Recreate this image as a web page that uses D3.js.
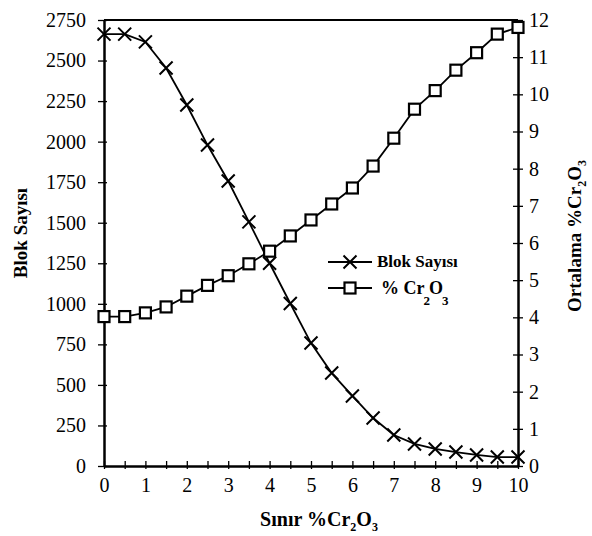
<!DOCTYPE html>
<html>
<head>
<meta charset="utf-8">
<title>Blok Sayısı - Ortalama %Cr2O3</title>
<script src="https://cdn.jsdelivr.net/npm/d3@7"></script>
<style>
    body { margin: 0; background: #fff; }
    svg { display: block; }
    .tick text { font-family: "Liberation Serif", "Times New Roman", serif; font-size: 20px; fill: #000; }
    .title { font-family: "Liberation Serif", "Times New Roman", serif; font-weight: bold; fill: #000; }
</style>
</head>
<body>
<div id="chart"></div>
<script>
    // data
    var sinir = [0, 0.5, 1, 1.5, 2, 2.5, 3, 3.5, 4, 4.5, 5, 5.5, 6, 6.5, 7, 7.5, 8, 8.5, 9, 9.5, 10];
    var blokSayisi = [2663, 2663, 2615, 2454, 2226, 1979, 1757, 1505, 1250, 1002, 758, 573, 432, 296, 191, 136, 105, 86, 68, 55, 55];
    var ortCr2O3 = [4.02, 4.02, 4.12, 4.28, 4.57, 4.86, 5.12, 5.44, 5.78, 6.19, 6.62, 7.05, 7.48, 8.07, 8.82, 9.6, 10.1, 10.65, 11.12, 11.62, 11.8];
    var leftTicks = [0, 250, 500, 750, 1000, 1250, 1500, 1750, 2000, 2250, 2500, 2750];
    var rightTicks = [0, 1, 2, 3, 4, 5, 6, 7, 8, 9, 10, 11, 12];
    var xMinorTicks = sinir;

    var width = 592, height = 536;
    var pLeft = 104, pRight = 518, pTop = 20, pBottom = 466;

    var svg = d3.select("#chart").append("svg")
        .attr("width", width)
        .attr("height", height);

    var x = d3.scaleLinear().domain([0, 10]).range([pLeft, pRight]);
    var yL = d3.scaleLinear().domain([0, 2750]).range([pBottom, pTop]);
    var yR = d3.scaleLinear().domain([0, 12]).range([pBottom, pTop]);

    // top border
    svg.append("line")
        .attr("x1", x(0)).attr("x2", x(10))
        .attr("y1", yL(2750)).attr("y2", yL(2750))
        .attr("stroke", "#000").attr("stroke-width", 2);

    function styleAxis(g) {
        g.select(".domain").attr("stroke", "#000").attr("stroke-width", 2.5);
        g.selectAll(".tick line").attr("stroke", "#000").attr("stroke-width", 1.3);
    }

    // left axis
    var gL = svg.append("g")
        .attr("transform", "translate(" + pLeft + ",0)")
        .call(d3.axisLeft(yL).tickValues(leftTicks).tickFormat(d3.format("d"))
            .tickSize(6).tickSizeOuter(0).tickPadding(12));
    styleAxis(gL);
    gL.selectAll(".tick line").attr("x1", 3);

    // right axis
    var gR = svg.append("g")
        .attr("transform", "translate(" + pRight + ",0)")
        .call(d3.axisRight(yR).tickValues(rightTicks).tickFormat(d3.format("d"))
            .tickSize(5).tickSizeOuter(0).tickPadding(6));
    styleAxis(gR);
    gR.selectAll(".tick line").attr("x1", -5);

    // bottom axis: minor ticks every 0.5, labels at integers
    var gB = svg.append("g")
        .attr("transform", "translate(0," + pBottom + ")")
        .call(d3.axisBottom(x).tickValues(xMinorTicks).tickSize(3).tickSizeOuter(0).tickPadding(9)
            .tickFormat(function(d){ return Number.isInteger(d) ? d : ""; }));
    styleAxis(gB);
    gB.selectAll(".tick line").attr("y1", -5);

    // lines
    var lineBlok = d3.line()
        .x(function(d, i){ return x(sinir[i]); })
        .y(function(d){ return yL(d); });
    var lineCr = d3.line()
        .x(function(d, i){ return x(sinir[i]); })
        .y(function(d){ return yR(d); });

    svg.append("path").datum(blokSayisi)
        .attr("d", lineBlok)
        .attr("fill", "none").attr("stroke", "#000").attr("stroke-width", 1.8);
    svg.append("path").datum(ortCr2O3)
        .attr("d", lineCr)
        .attr("fill", "none").attr("stroke", "#000").attr("stroke-width", 1.8);

    function drawCross(g, cx, cy) {
        var s = 6.5;
        g.append("path")
            .attr("d", "M" + (cx - s) + "," + (cy - s) + "L" + (cx + s) + "," + (cy + s) +
                       "M" + (cx - s) + "," + (cy + s) + "L" + (cx + s) + "," + (cy - s))
            .attr("stroke", "#000").attr("stroke-width", 2).attr("fill", "none");
    }
    function drawSquare(g, cx, cy) {
        var s = 5.5;
        g.append("rect")
            .attr("x", cx - s).attr("y", cy - s)
            .attr("width", 2 * s).attr("height", 2 * s)
            .attr("fill", "#fff").attr("stroke", "#000").attr("stroke-width", 2.2);
    }

    var gMarks = svg.append("g");
    blokSayisi.forEach(function(d, i){ drawCross(gMarks, x(sinir[i]), yL(d)); });
    ortCr2O3.forEach(function(d, i){ drawSquare(gMarks, x(sinir[i]), yR(d)); });

    // legend
    var leg = svg.append("g");
    leg.append("line").attr("x1", 328).attr("x2", 372).attr("y1", 262).attr("y2", 262)
        .attr("stroke", "#000").attr("stroke-width", 1.8);
    drawCross(leg, 350, 262);
    leg.append("text").attr("class", "title").attr("x", 377).attr("y", 267)
        .style("font-size", "17px").text("Blok Sayısı");

    leg.append("line").attr("x1", 328).attr("x2", 372).attr("y1", 288).attr("y2", 288)
        .attr("stroke", "#000").attr("stroke-width", 2.2);
    drawSquare(leg, 350, 288);
    var t2 = leg.append("text").attr("class", "title").attr("x", 381).attr("y", 294)
        .style("font-size", "18px");
    t2.append("tspan").text("% Cr");
    t2.append("tspan").attr("dy", 11).attr("dx", -1).style("font-size", "13px").text("2");
    t2.append("tspan").attr("dy", -11).attr("dx", -1).text("O");
    t2.append("tspan").attr("dy", 11).attr("dx", -1).style("font-size", "13px").text("3");

    // axis titles
    function subTitle(t, pre) {
        t.append("tspan").text(pre + "%Cr");
        t.append("tspan").attr("dy", 5).style("font-size", "12px").text("2");
        t.append("tspan").attr("dy", -5).text("O");
        t.append("tspan").attr("dy", 5).style("font-size", "12px").text("3");
    }

    var tx = svg.append("text").attr("class", "title")
        .attr("x", 319).attr("y", 526)
        .attr("text-anchor", "middle")
        .style("font-size", "20px");
    subTitle(tx, "Sınır ");

    svg.append("text").attr("class", "title")
        .attr("transform", "translate(27,233) rotate(-90)")
        .attr("text-anchor", "middle")
        .style("font-size", "19px")
        .text("Blok Sayısı");

    var tr = svg.append("text").attr("class", "title")
        .attr("transform", "translate(581,236) rotate(-90)")
        .attr("text-anchor", "middle")
        .style("font-size", "19px");
    subTitle(tr, "Ortalama ");
</script>
</body>
</html>
